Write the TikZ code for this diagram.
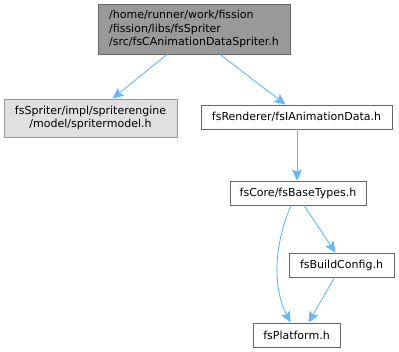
\documentclass[tikz,border=0pt]{standalone}
\usepackage{fontspec}
\setmainfont{DejaVu Sans}
\usetikzlibrary{arrows.meta}
\definecolor{edgeblue}{HTML}{63B8FF}
\definecolor{topfill}{HTML}{999999}
\definecolor{topdraw}{HTML}{666666}
\definecolor{extfill}{HTML}{E0E0E0}
\definecolor{extdraw}{HTML}{999999}
\begin{document}
\begin{tikzpicture}[x=1pt,y=-1pt,
  filebox/.style={draw=topdraw,fill=white,line width=0.8pt,inner sep=0pt,minimum height=24pt,font=\fontsize{11}{13.5}\selectfont},
  topbox/.style={filebox,fill=topfill,align=left},
  extbox/.style={filebox,draw=extdraw,fill=extfill,align=center},
  dep/.style={draw=edgeblue,line width=0.9pt,-{Stealth[length=11pt,width=10pt,inset=2pt]},edgeblue}]
\useasboundingbox (0,0) rectangle (399,352);
\node[topbox,minimum width=192pt,minimum height=50pt] (top) at (194,29) {/home/runner/work/fission\\/fission/libs/fsSpriter\\/src/fsCAnimationDataSpriter.h};
\node[extbox,minimum width=173pt,minimum height=38pt] (spm) at (90.5,118) {fsSpriter/impl/spriterengine\\/model/spritermodel.h};
\node[filebox,minimum width=191pt] (iad) at (296.5,117) {fsRenderer/fsIAnimationData.h};
\node[filebox,minimum width=136pt] (bt) at (298,193) {fsCore/fsBaseTypes.h};
\node[filebox,minimum width=105pt] (bc) at (341.5,265) {fsBuildConfig.h};
\node[filebox,minimum width=87pt] (pl) at (296.5,335) {fsPlatform.h};
\draw[dep] ([xshift=-27pt]top.south) -- ([xshift=22pt]spm.north);
\draw[dep] ([xshift=26pt]top.south) -- ([xshift=-11pt]iad.north);
\draw[dep] ([xshift=0.5pt]iad.south) -- ([xshift=-1pt]bt.north);
\draw[dep] ([xshift=6pt]bt.south) -- ([xshift=-6pt]bc.north);
\draw[dep] ([xshift=-7pt]bc.south) -- ([xshift=12pt]pl.north);
\draw[dep] ([xshift=-7pt]bt.south) .. controls (272,250) and (274,290) .. ([xshift=-6pt]pl.north);
\end{tikzpicture}
\end{document}
